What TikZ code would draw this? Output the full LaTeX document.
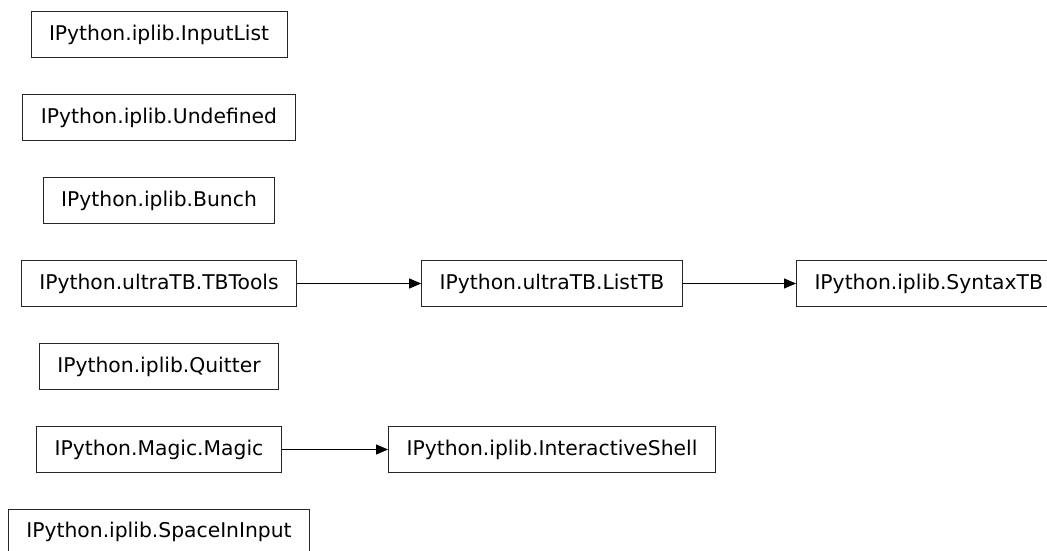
\documentclass[tikz,border=0pt]{standalone}
\usepackage{fontspec}
\setmainfont{DejaVu Sans}
\usetikzlibrary{arrows.meta}
\begin{document}
\begin{tikzpicture}[x=1pt,y=-1pt,
  cls/.style={draw=black!85, line width=1pt, fill=white, inner xsep=18pt, inner ysep=0pt,
    minimum height=46pt, font=\fontsize{20.3}{24}\selectfont, text=black},
  arr/.style={draw=black, line width=1pt, -{Triangle[length=12pt,width=10pt]}}]
\useasboundingbox (0,0) rectangle (1047,551);
\clip (0,0) rectangle (1047,551);
\fill[white] (0,0) rectangle (1047,551);
\node[cls] (inputlist) at (159,35) {IPython.iplib.InputList};
\node[cls] (undefined) at (159,117.5) {IPython.iplib.Undefined};
\node[cls] (bunch) at (159,200.5) {IPython.iplib.Bunch};
\node[cls] (tbtools) at (159,283.5) {IPython.ultraTB.TBTools};
\node[cls] (listtb) at (552,283.5) {IPython.ultraTB.ListTB};
\node[cls,anchor=west] (syntaxtb) at (796,283.5) {IPython.iplib.SyntaxTB};
\node[cls] (quitter) at (159,366.5) {IPython.iplib.Quitter};
\node[cls] (magic) at (159,449.5) {IPython.Magic.Magic};
\node[cls] (ishell) at (552,449.5) {IPython.iplib.InteractiveShell};
\node[cls] (spaceininput) at (159,532) {IPython.iplib.SpaceInInput};
\draw[arr] (tbtools) -- (listtb);
\draw[arr] (listtb) -- (syntaxtb);
\draw[arr] (magic) -- (ishell);
\end{tikzpicture}
\end{document}
